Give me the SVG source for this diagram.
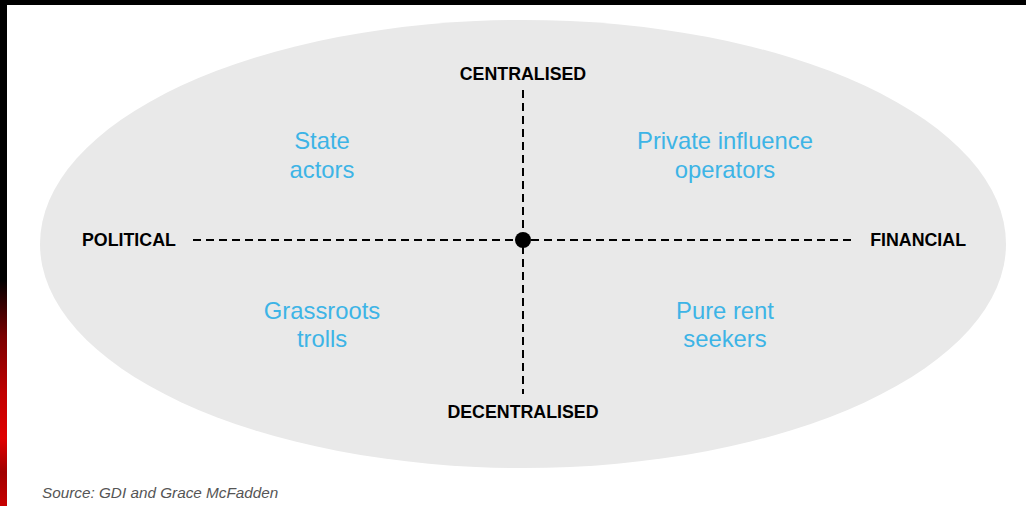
<svg xmlns="http://www.w3.org/2000/svg" width="1026" height="506" viewBox="0 0 1026 506">
<defs>
<linearGradient id="red" x1="0" y1="0" x2="0" y2="1">
<stop offset="0" stop-color="#000"/>
<stop offset="0.25" stop-color="#7a0000"/>
<stop offset="0.5" stop-color="#c00000"/>
<stop offset="0.7" stop-color="#e00000"/>
<stop offset="0.85" stop-color="#a00000"/>
<stop offset="1" stop-color="#c80000"/>
</linearGradient>
<style>
.axis{font-family:"Liberation Sans",Arial,sans-serif;font-weight:bold;font-size:17.8px;fill:#000}
.quad{font-family:"Liberation Sans",Arial,sans-serif;font-size:23.8px;fill:#3db4e6;text-anchor:middle}
.dash{stroke:#000;stroke-width:2;stroke-dasharray:8,5;fill:none}
.src{font-family:"Liberation Sans",Arial,sans-serif;font-style:italic;font-size:15.3px;fill:#555}
</style>
</defs>
<rect width="1026" height="506" fill="#fff"/>
<rect x="0" y="0" width="1026" height="5" fill="#000"/>
<rect x="0" y="0" width="7" height="506" fill="#000"/>
<rect x="0" y="280" width="7" height="226" fill="url(#red)"/>
<ellipse cx="523" cy="244" rx="483" ry="224" fill="#e9e9e9"/>
<g id="connectors">
<line class="dash" x1="193" y1="240" x2="855" y2="240"/>
<line class="dash" x1="523" y1="90" x2="523" y2="394"/>
</g>
<g id="center"><circle cx="523" cy="240" r="8" fill="#000"/></g>
<g id="centralised"><text class="axis" x="523" y="80" text-anchor="middle">CENTRALISED</text></g>
<g id="decentralised"><text class="axis" x="523" y="418" text-anchor="middle">DECENTRALISED</text></g>
<g id="political"><text class="axis" x="82" y="246">POLITICAL</text></g>
<g id="financial"><text class="axis" x="966" y="246" text-anchor="end">FINANCIAL</text></g>
<g id="state-actors"><text class="quad" x="322" y="149">State</text><text class="quad" x="322" y="178">actors</text></g>
<g id="private-influence"><text class="quad" x="725" y="149">Private influence</text><text class="quad" x="725" y="178">operators</text></g>
<g id="grassroots"><text class="quad" x="322" y="319">Grassroots</text><text class="quad" x="322" y="347">trolls</text></g>
<g id="rent-seekers"><text class="quad" x="725" y="319">Pure rent</text><text class="quad" x="725" y="347">seekers</text></g>
<text class="src" x="42" y="498">Source: GDI and Grace McFadden</text>
</svg>
